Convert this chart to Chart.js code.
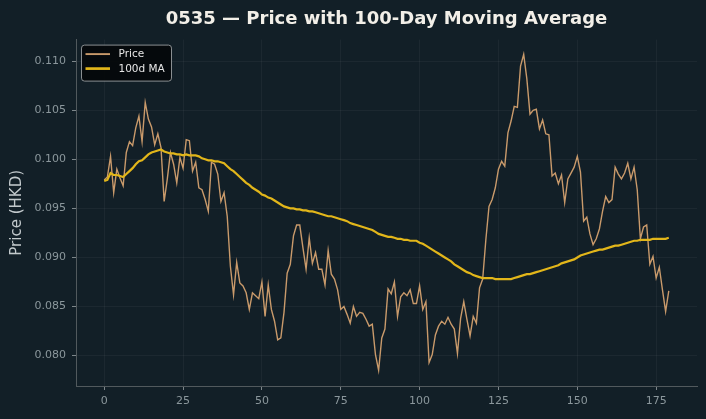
<!DOCTYPE html>
<html>
<head>
<meta charset="utf-8">
<script src="https://cdn.jsdelivr.net/npm/chart.js@4.4.1/dist/chart.umd.min.js"></script>
<style>
  html, body { margin: 0; padding: 0; background: #121f27; }
  #wrap { width: 706px; height: 419px; }
</style>
</head>
<body>
<div id="wrap"><canvas id="c" width="706" height="419"></canvas></div>
<script>
const titleText = "0535 \u2014 Price with 100-Day Moving Average";
const yAxisTitle = "Price (HKD)";
const seriesNames = ["Price", "100d MA"];
const xTicks = [0, 25, 50, 75, 100, 125, 150, 175];
const yTicks = [0.080, 0.085, 0.090, 0.095, 0.100, 0.105, 0.110];

const price = [
  0.0979, 0.0982, 0.1003, 0.0966, 0.0990, 0.0981, 0.0973, 0.1007, 0.1018, 0.1014,
  0.1032, 0.1044, 0.1018, 0.1058, 0.1041, 0.1033, 0.1015, 0.1026, 0.1012, 0.0957,
  0.0980, 0.1007, 0.0995, 0.0976, 0.1002, 0.0991, 0.1020, 0.1019, 0.0988, 0.0997,
  0.0971, 0.0969, 0.0959, 0.0947, 0.0997, 0.0995, 0.0985, 0.0957, 0.0966, 0.0942,
  0.0891, 0.0862, 0.0895, 0.0874, 0.0871, 0.0864, 0.0847, 0.0864, 0.0861, 0.0858,
  0.0875, 0.0840, 0.0872, 0.0847, 0.0835, 0.0816, 0.0818, 0.0844, 0.0884, 0.0893,
  0.0922, 0.0933, 0.0933, 0.0910, 0.0888, 0.0920, 0.0894, 0.0905, 0.0888, 0.0888,
  0.0872, 0.0907, 0.0883, 0.0878, 0.0867, 0.0847, 0.0850, 0.0842, 0.0833, 0.0850,
  0.0840, 0.0844, 0.0843, 0.0837, 0.0830, 0.0832, 0.0801, 0.0785, 0.0818, 0.0827,
  0.0868, 0.0863, 0.0875, 0.0840, 0.0860, 0.0864, 0.0861, 0.0867, 0.0853, 0.0853,
  0.0871, 0.0847, 0.0855, 0.0793, 0.0801, 0.0821, 0.0830, 0.0835, 0.0832, 0.0839,
  0.0832, 0.0827, 0.0802, 0.0838, 0.0855, 0.0837, 0.0820, 0.0840, 0.0833, 0.0869,
  0.0878, 0.0918, 0.0952, 0.0959, 0.0971, 0.0990, 0.0998, 0.0993, 0.1027, 0.1039,
  0.1054, 0.1053, 0.1095, 0.1107, 0.1082, 0.1046, 0.1050, 0.1051, 0.1031, 0.1040,
  0.1026, 0.1025, 0.0983, 0.0986, 0.0975, 0.0984, 0.0956, 0.0980, 0.0986, 0.0992,
  0.1003, 0.0987, 0.0937, 0.0941, 0.0924, 0.0913, 0.0919, 0.0929, 0.0947, 0.0962,
  0.0956, 0.0959, 0.0992, 0.0985, 0.0980, 0.0986, 0.0996, 0.0980, 0.0992, 0.0969,
  0.0919, 0.0931, 0.0933, 0.0893, 0.0901, 0.0879, 0.0890, 0.0867, 0.0845, 0.0866
];

const ma100 = [
  0.0978, 0.0979, 0.0986, 0.0984, 0.0984, 0.0983, 0.0982, 0.0985, 0.0988, 0.0991,
  0.0995, 0.0998, 0.0999, 0.1002, 0.1005, 0.1007, 0.1008, 0.1009, 0.1010, 0.1008,
  0.1007, 0.1006, 0.1006, 0.1005, 0.1005, 0.1004, 0.1005, 0.1004, 0.1004, 0.1004,
  0.1003, 0.1001, 0.1000, 0.0999, 0.0999, 0.0998, 0.0998, 0.0997, 0.0996, 0.0993,
  0.0990, 0.0988, 0.0985, 0.0982, 0.0979, 0.0976, 0.0974, 0.0971, 0.0969, 0.0967,
  0.0964, 0.0963, 0.0961, 0.0960, 0.0958, 0.0956, 0.0954, 0.0952, 0.0951, 0.0950,
  0.0950, 0.0949, 0.0949, 0.0948, 0.0948, 0.0947, 0.0947, 0.0946, 0.0945, 0.0944,
  0.0943, 0.0942, 0.0942, 0.0941, 0.0940, 0.0939, 0.0938, 0.0937, 0.0935, 0.0934,
  0.0933, 0.0932, 0.0931, 0.0930, 0.0929, 0.0928, 0.0926, 0.0924, 0.0923, 0.0922,
  0.0921, 0.0921, 0.0920, 0.0919, 0.0919, 0.0918, 0.0918, 0.0917, 0.0917, 0.0917,
  0.0915, 0.0914, 0.0912, 0.0910, 0.0908, 0.0906, 0.0904, 0.0902, 0.0900, 0.0898,
  0.0896, 0.0893, 0.0891, 0.0889, 0.0887, 0.0885, 0.0884, 0.0882, 0.0881, 0.0880,
  0.0879, 0.0879, 0.0879, 0.0879, 0.0878, 0.0878, 0.0878, 0.0878, 0.0878, 0.0878,
  0.0879, 0.0880, 0.0881, 0.0882, 0.0883, 0.0883, 0.0884, 0.0885, 0.0886, 0.0887,
  0.0888, 0.0889, 0.0890, 0.0891, 0.0892, 0.0894, 0.0895, 0.0896, 0.0897, 0.0898,
  0.0900, 0.0902, 0.0903, 0.0904, 0.0905, 0.0906, 0.0907, 0.0908, 0.0908, 0.0909,
  0.0910, 0.0911, 0.0912, 0.0912, 0.0913, 0.0914, 0.0915, 0.0916, 0.0917, 0.0917,
  0.0918, 0.0918, 0.0918, 0.0918, 0.0919, 0.0919, 0.0919, 0.0919, 0.0919, 0.0920
];

const FONT = "'DejaVu Sans', 'Liberation Sans', sans-serif";
const priceColor = '#c99a6b';
const maColor = '#e2b61a';

const legendPlugin = {
  id: 'boxLegend',
  afterDraw(chart) {
    const ctx = chart.ctx;
    const a = chart.chartArea;
    const x = a.left + 5.5, y = a.top + 5.5, w = 90, h = 36, r = 3;
    ctx.save();
    ctx.beginPath();
    ctx.moveTo(x + r, y);
    ctx.lineTo(x + w - r, y);
    ctx.arcTo(x + w, y, x + w, y + r, r);
    ctx.lineTo(x + w, y + h - r);
    ctx.arcTo(x + w, y + h, x + w - r, y + h, r);
    ctx.lineTo(x + r, y + h);
    ctx.arcTo(x, y + h, x, y + h - r, r);
    ctx.lineTo(x, y + r);
    ctx.arcTo(x, y, x + r, y, r);
    ctx.closePath();
    ctx.fillStyle = 'rgba(4,8,10,0.92)';
    ctx.fill();
    ctx.strokeStyle = '#8a8f92';
    ctx.lineWidth = 1;
    ctx.stroke();
    const rows = [y + 9, y + 23.5];
    chart.data.datasets.forEach((ds, i) => {
      ctx.beginPath();
      ctx.strokeStyle = ds.borderColor;
      ctx.lineWidth = ds.borderWidth + 0.5;
      ctx.moveTo(x + 4, rows[i]);
      ctx.lineTo(x + 28.5, rows[i]);
      ctx.stroke();
      ctx.fillStyle = '#e6e6e6';
      ctx.font = "10.5px " + FONT;
      ctx.textBaseline = 'middle';
      ctx.textAlign = 'left';
      ctx.fillText(ds.label, x + 37, rows[i] + 0.5);
    });
    ctx.restore();
  }
};

const bgPlugin = {
  id: 'bg',
  beforeDraw(chart) {
    const ctx = chart.ctx;
    ctx.save();
    ctx.fillStyle = '#121f27';
    ctx.fillRect(0, 0, chart.width, chart.height);
    ctx.restore();
  }
};

new Chart(document.getElementById('c'), {
  type: 'line',
  data: {
    datasets: [
      {
        label: seriesNames[0],
        data: price.map((v, i) => ({ x: i, y: v })),
        borderColor: priceColor,
        borderWidth: 1.4,
        pointRadius: 0,
        tension: 0,
        order: 2
      },
      {
        label: seriesNames[1],
        data: ma100.map((v, i) => ({ x: i, y: v })),
        borderColor: maColor,
        borderWidth: 2.2,
        pointRadius: 0,
        tension: 0,
        order: 1
      }
    ]
  },
  options: {
    responsive: false,
    animation: false,
    layout: { padding: { left: 0, right: 9, top: 0, bottom: 0 } },
    plugins: {
      legend: { display: false },
      tooltip: { enabled: false },
      title: {
        display: true,
        fullSize: false,
        text: titleText,
        color: '#f2efe8',
        font: { family: FONT, size: 18, weight: 'bold' },
        padding: { top: 9, bottom: 9 }
      }
    },
    scales: {
      x: {
        type: 'linear',
        min: -8.95,
        max: 187.95,
        afterBuildTicks: s => { s.ticks = xTicks.map(v => ({ value: v })); },
        afterFit: s => { s.height = 33; },
        ticks: {
          color: '#8b979c',
          font: { family: FONT, size: 11 },
          padding: 5,
          maxRotation: 0,
          autoSkip: false,
          callback: v => String(v)
        },
        grid: { color: 'rgba(255,255,255,0.045)', tickColor: '#7d868a', tickLength: 4, drawTicks: true },
        border: { display: true, color: '#51595d', width: 1 }
      },
      y: {
        type: 'linear',
        min: 0.0769,
        max: 0.1122,
        afterBuildTicks: s => { s.ticks = yTicks.map(v => ({ value: v })); },
        afterFit: s => { s.width = 76; },
        ticks: {
          color: '#8b979c',
          font: { family: FONT, size: 11 },
          padding: 6,
          autoSkip: false,
          callback: v => Number(v).toFixed(3)
        },
        title: {
          display: true,
          text: yAxisTitle,
          color: '#c2c9cc',
          font: { family: FONT, size: 15 },
          padding: { top: 8, bottom: 0 }
        },
        grid: { color: 'rgba(255,255,255,0.045)', tickColor: '#7d868a', tickLength: 4, drawTicks: true },
        border: { display: true, color: '#51595d', width: 1 }
      }
    }
  },
  plugins: [bgPlugin, legendPlugin]
});
</script>
</body>
</html>
